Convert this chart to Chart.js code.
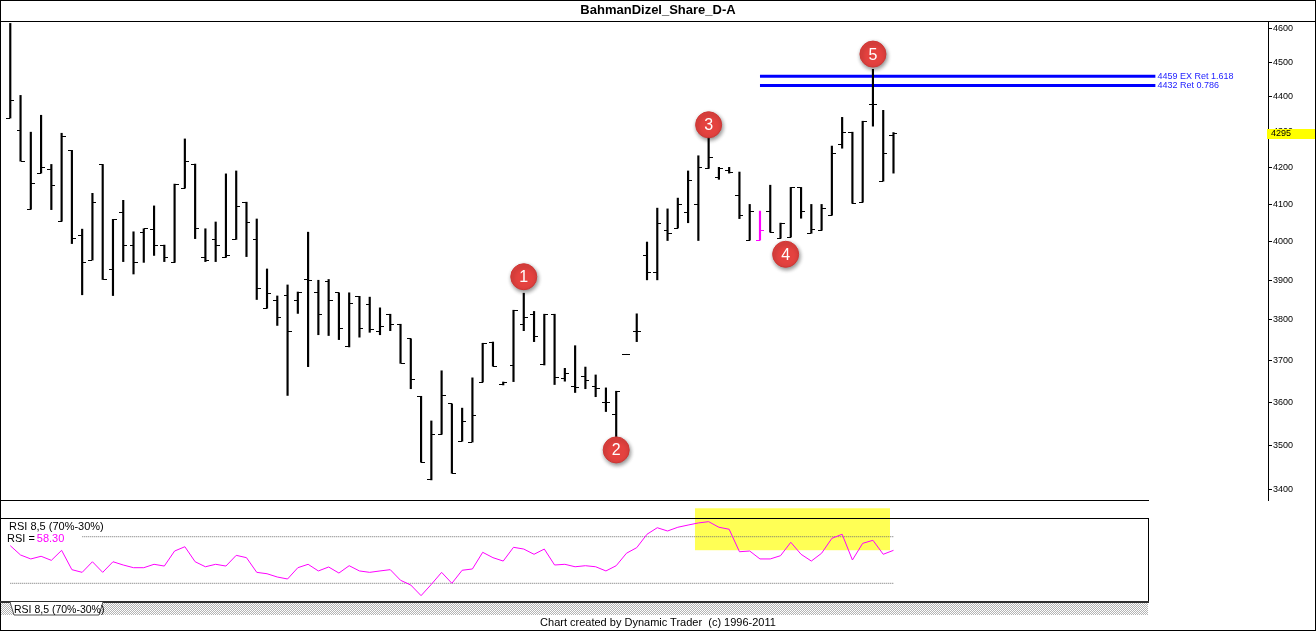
<!DOCTYPE html>
<html><head><meta charset="utf-8">
<script src="https://cdn.jsdelivr.net/npm/chart.js@4.4.1/dist/chart.umd.min.js"></script>
<style>
html,body{margin:0;padding:0;background:#fff;}
#wrap{position:relative;width:1316px;height:631px;overflow:hidden;background:#fff;font-family:"Liberation Sans",Arial,sans-serif;color:#000;}
canvas{position:absolute;left:0;}
.ln{position:absolute;background:#000;}
</style></head>
<body>
<div id="wrap">
 <canvas id="main" width="1316" height="501" style="top:0"></canvas>
 <canvas id="rsi" width="1149" height="102" style="top:500px"></canvas>
 <div class="ln" style="left:0;top:0;width:1316px;height:1px"></div>
 <div class="ln" style="left:0;top:630px;width:1316px;height:1px"></div>
 <div class="ln" style="left:0;top:0;width:1px;height:631px"></div>
 <div class="ln" style="left:1315px;top:0;width:1px;height:631px"></div>
 <div class="ln" style="left:0;top:21px;width:1316px;height:1px"></div>
 <div class="ln" style="left:0;top:500px;width:1149px;height:1px"></div>
 <div class="ln" style="left:0;top:518px;width:1149px;height:1px"></div>
 <div class="ln" style="left:1148px;top:518px;width:1px;height:84px"></div>
 <div class="ln" style="left:0;top:601px;width:1149px;height:2px;background:#303030"></div>
 <div style="position:absolute;left:1px;top:603px;width:1147px;height:12px;background:repeating-conic-gradient(#b4b4b4 0% 25%, #ffffff 0% 50%) 0 0/2px 2px"></div>
 <svg style="position:absolute;left:0;top:602px" width="120" height="15">
  <polygon points="10,0 14,13 99,13 103,0" fill="#ffffff"/>
  <polyline points="10,0 14,13 99,13 103,0" fill="none" stroke="#505050" stroke-width="1"/>
 </svg>
 <div style="position:absolute;left:14px;top:603px;width:85px;height:12px;font-size:10.5px;line-height:12px;text-align:center;white-space:nowrap">RSI 8,5 (70%-30%)</div>
 <div style="position:absolute;left:0;top:615px;width:1316px;height:15px;line-height:15px;font-size:11px;text-align:center;white-space:pre">Chart created by Dynamic Trader  (c) 1996-2011</div>
</div>
<script>
// ---------- data ----------
const opens = [4338,4304,4086,4184,4195,4054,4247,4017,3952,4208,
3928,4078,3991,4025,4033,3991,3946,4143,4209,3959,
4007,3959,4006,4105,4007,3829,3849,3860,3849,3902,
3868,3897,3868,3733,3859,3839,3772,3814,3789,3753,
3614,3421,3525,3596,3509,3507,3648,3745,3641,3688,
3789,3814,3689,3814,3657,3637,3662,3637,3600,3570,
3715,3772,3963,3921,4030,4036,4078,4099,4197,4173,
4192,4124,4004,4004,4081,4009,4012,4145,4022,4030,
4070,4264,4298,4105,4377,4162,4289];
const highs = [4616,4403,4298,4346,4208,4295,4247,4033,4129,4208,
4059,4110,4026,4034,4095,3991,4154,4279,4209,4034,
4052,4182,4190,4105,4060,3929,3860,3888,3870,4025,
3900,3902,3868,3868,3859,3857,3830,3814,3789,3753,
3614,3556,3675,3596,3586,3658,3742,3745,3648,3824,
3867,3821,3814,3814,3681,3736,3684,3665,3634,3626,
3715,3815,3999,4089,4087,4116,4190,4232,4285,4200,
4200,4187,4099,4081,4151,4049,4145,4145,4099,4099,
4259,4340,4298,4329,4479,4360,4297];
const lows = [4338,4217,4086,4184,4085,4054,3995,3863,3952,3902,
3861,3948,3916,3946,3964,3948,3946,4143,4008,3948,
3948,3959,4006,3961,3851,3829,3786,3616,3816,3685,
3763,3761,3751,3733,3757,3769,3763,3773,3693,3632,
3461,3421,3525,3436,3509,3507,3648,3686,3641,3649,
3773,3746,3689,3642,3650,3623,3632,3613,3578,3516,
3715,3746,3901,3901,4003,4036,4050,4003,4197,4167,
4184,4061,4004,4004,4025,4009,4012,4062,4022,4030,
4070,4253,4102,4105,4315,4162,4184];
const closes = [4387,4217,4156,4200,4151,4287,4009,3946,4105,3902,
4059,3991,3946,4034,3991,3959,4154,4217,4034,3951,
3991,3965,4094,4051,3880,3867,3806,3772,3870,3900,
3814,3849,3779,3842,3779,3775,3784,3789,3693,3655,
3461,3525,3615,3436,3555,3569,3742,3686,3648,3824,
3806,3759,3814,3660,3668,3636,3651,3632,3600,3626,
3715,3772,3921,4049,4022,4099,4165,4200,4228,4197,
4187,4070,4081,4030,4025,4049,4145,4081,4033,4089,
4239,4298,4102,4329,4377,4239,4295];
const rsiValues = [62.3,54.3,50.9,53.2,49.7,58.3,41.7,39.4,48.5,39.4,
48.5,45.7,43.4,43.4,46.3,44.8,57.7,61.4,48.5,44.2,
46.3,44.8,54.0,52.0,39.4,38.2,35.4,33.7,43.4,46.3,
40.6,44.0,38.8,45.1,40.6,39.4,40.6,41.7,32.6,28.5,
19.4,29.1,39.4,30.0,41.2,42.3,56.6,52.0,49.1,60.9,
59.4,54.9,59.4,45.7,46.3,44.2,45.1,44.2,40.6,45.1,
55.8,60.6,72.1,77.7,74.9,78.1,80.0,81.8,82.9,78.1,
76.4,57.1,57.7,50.9,50.9,53.7,65.2,54.9,49.1,55.8,
68.6,72.1,50.0,64.3,66.9,54.9,58.3];
const priceTicks = [3400,3500,3600,3700,3800,3900,4000,4100,4200,4300,4400,4500,4600];
const rsiLevels = [70, 30];
const fibLevels = [4459, 4432];
const fibLabels = ['4459 EX Ret 1.618', '4432 Ret 0.786'];
const waveNames = ['1','2','3','4','5'];
const waveBars = [50, 59, 68, 75.5, 84];
const wavePrices = [3909, 3489, 4319, 3967, 4524];

// ---------- layout / style constants ----------
const BAR_PX = 10.27, X_MIN = -1;
const MAIN_PLOT_W = 1268, RSI_PLOT_W = 1148;
const PRICE_MIN = 3376.2, PRICE_MAX = 4620.3;
const RSI_MIN = 14.81, RSI_MAX = 86.05;
const MARKED_BAR = 73;
const FIB_FROM = 73, FIB_TO = 111.5;
const HILITE = {x0: 66.67, x1: 85.66, y0: 58.4, y1: 94.4};
const FONT = 'Liberation Sans';
Chart.defaults.font.family = FONT;

const idx = closes.map((_, i) => i);
function tickImg(left, color) {
  const c = document.createElement('canvas');
  c.width = 8; c.height = 1;
  const g = c.getContext('2d');
  g.fillStyle = color;
  g.fillRect(left ? 0 : 4, 0, 4, 1);
  return c;
}
const openB = tickImg(true, '#000'), openM = tickImg(true, '#ff00ff');
const closeB = tickImg(false, '#000'), closeM = tickImg(false, '#ff00ff');

const decorMain = {
  id: 'decorMain',
  beforeDraw(chart) { chart.ctx.imageSmoothingEnabled = false; },
  beforeDatasetDraw(chart, args) {
    if (chart.data.datasets[args.index].id === 'waves') {
      const c = chart.ctx; c.save();
      c.shadowColor = 'rgba(0,0,0,0.45)'; c.shadowBlur = 4; c.shadowOffsetX = 1; c.shadowOffsetY = 2;
    }
  },
  afterDatasetDraw(chart, args) {
    if (chart.data.datasets[args.index].id === 'waves') chart.ctx.restore();
  },
  afterDraw(chart) {
    const c = chart.ctx, xs = chart.scales.x, ys = chart.scales.y;
    const wi = chart.data.datasets.findIndex(d => d.id === 'waves');
    const meta = chart.getDatasetMeta(wi);
    c.save();
    c.fillStyle = '#fff'; c.font = '16px ' + FONT; c.textAlign = 'center'; c.textBaseline = 'middle';
    meta.data.forEach((p, k) => c.fillText(waveNames[k], p.x, p.y + 1));
    c.fillStyle = '#2222ff'; c.font = '9px ' + FONT; c.textAlign = 'left';
    fibLevels.forEach((v, k) => c.fillText(fibLabels[k], xs.getPixelForValue(FIB_TO) + 2, ys.getPixelForValue(v) + 0.5));
    const last = closes[closes.length - 1];
    const yy = ys.getPixelForValue(last);
    c.fillStyle = '#ffff00';
    c.fillRect(chart.chartArea.right - 1, Math.round(yy) - 4, 48, 10);
    c.fillStyle = '#000'; c.font = '9px ' + FONT;
    c.fillText(String(last), chart.chartArea.right + 3, Math.round(yy) + 1);
    c.restore();
  }
};

new Chart(document.getElementById('main'), {
  type: 'bar',
  data: {
    datasets: [
      ...fibLevels.map(v => ({
        type: 'line', data: [{x: FIB_FROM, y: v}, {x: FIB_TO, y: v}],
        borderColor: '#0000ff', borderWidth: 3, pointRadius: 0, order: 10
      })),
      {
        type: 'bar', data: idx.map(i => ({x: i, y: [lows[i], highs[i]]})),
        backgroundColor: idx.map(i => i === MARKED_BAR ? '#ff00ff' : '#000'),
        barThickness: 1.5, borderWidth: 0, order: 2
      },
      {
        type: 'scatter', data: idx.map(i => ({x: i, y: opens[i]})),
        pointStyle: ctx => ctx.dataIndex === MARKED_BAR ? openM : openB, pointRadius: 4, order: 1
      },
      {
        type: 'scatter', data: idx.map(i => ({x: i, y: closes[i]})),
        pointStyle: ctx => ctx.dataIndex === MARKED_BAR ? closeM : closeB, pointRadius: 4, order: 1
      },
      {
        id: 'waves', type: 'scatter', data: waveBars.map((b, k) => ({x: b, y: wavePrices[k]})),
        pointStyle: 'circle', pointRadius: 13, backgroundColor: '#e4423f', borderColor: '#cf3634', borderWidth: 1, order: -1
      }
    ]
  },
  options: {
    responsive: false, animation: false, events: [],
    layout: {autoPadding: false, padding: {left: 0, right: 0, top: 0, bottom: 1}},
    scales: {
      x: {type: 'linear', display: false, offset: false, min: X_MIN, max: X_MIN + MAIN_PLOT_W / BAR_PX},
      y: {
        type: 'logarithmic', position: 'right', min: PRICE_MIN, max: PRICE_MAX, bounds: 'data',
        afterBuildTicks: s => { s.ticks = priceTicks.map(v => ({value: v})); },
        afterFit: s => { s.width = 48; s.paddingTop = 0; s.paddingBottom = 0; },
        ticks: {callback: v => String(v), font: {family: FONT, size: 9}, color: '#000', padding: 1, autoSkip: false},
        grid: {drawOnChartArea: false, drawTicks: true, tickLength: 4, color: '#000'},
        border: {display: true, color: '#000', width: 1}
      }
    },
    plugins: {
      legend: {display: false}, tooltip: {enabled: false},
      title: {display: true, text: 'BahmanDizel_Share_D-A', color: '#000',
        font: {family: FONT, size: 13, weight: 'bold', lineHeight: 1.2}, padding: {top: 3, bottom: 3.4}}
    }
  },
  plugins: [decorMain]
});

const decorRsi = {
  id: 'decorRsi',
  beforeDatasetsDraw(chart) {
    const c = chart.ctx, xs = chart.scales.x, ys = chart.scales.y;
    const x0 = xs.getPixelForValue(HILITE.x0), x1 = xs.getPixelForValue(HILITE.x1);
    const y0 = ys.getPixelForValue(HILITE.y1), y1 = ys.getPixelForValue(HILITE.y0);
    c.save(); c.fillStyle = 'rgb(255,255,85)'; c.fillRect(x0, y0, x1 - x0, y1 - y0); c.restore();
  },
  afterDatasetsDraw(chart) {
    const c = chart.ctx, t = chart.chartArea.top;
    c.save();
    c.fillStyle = '#fff'; c.fillRect(1, t + 1, 81, 23);
    c.font = '11px ' + FONT; c.textBaseline = 'middle'; c.fillStyle = '#000';
    c.fillText('RSI 8,5 (70%-30%)', 9, t + 9);
    const lab = 'RSI =';
    c.fillText(lab, 7, t + 20.5);
    c.fillStyle = '#ff00ff';
    c.fillText(rsiValues[rsiValues.length - 1].toFixed(2), 7 + c.measureText(lab).width + 2, t + 20.5);
    c.restore();
  }
};

new Chart(document.getElementById('rsi'), {
  type: 'line',
  data: {
    datasets: [
      {data: rsiValues.map((v, i) => ({x: i, y: v})), borderColor: '#ff00ff', borderWidth: 1, pointRadius: 0, order: 1},
      ...rsiLevels.map(l => ({data: [{x: 0, y: l}, {x: rsiValues.length - 1, y: l}],
        borderColor: '#707070', borderWidth: 1, borderDash: [1, 1], pointRadius: 0, order: 2}))
    ]
  },
  options: {
    responsive: false, animation: false, events: [],
    layout: {autoPadding: false, padding: {left: 0, right: 1, top: 18, bottom: 1}},
    scales: {
      x: {type: 'linear', display: false, min: X_MIN, max: X_MIN + RSI_PLOT_W / BAR_PX},
      y: {display: false, min: RSI_MIN, max: RSI_MAX}
    },
    plugins: {legend: {display: false}, tooltip: {enabled: false}}
  },
  plugins: [decorRsi]
});
</script>
</body></html>
